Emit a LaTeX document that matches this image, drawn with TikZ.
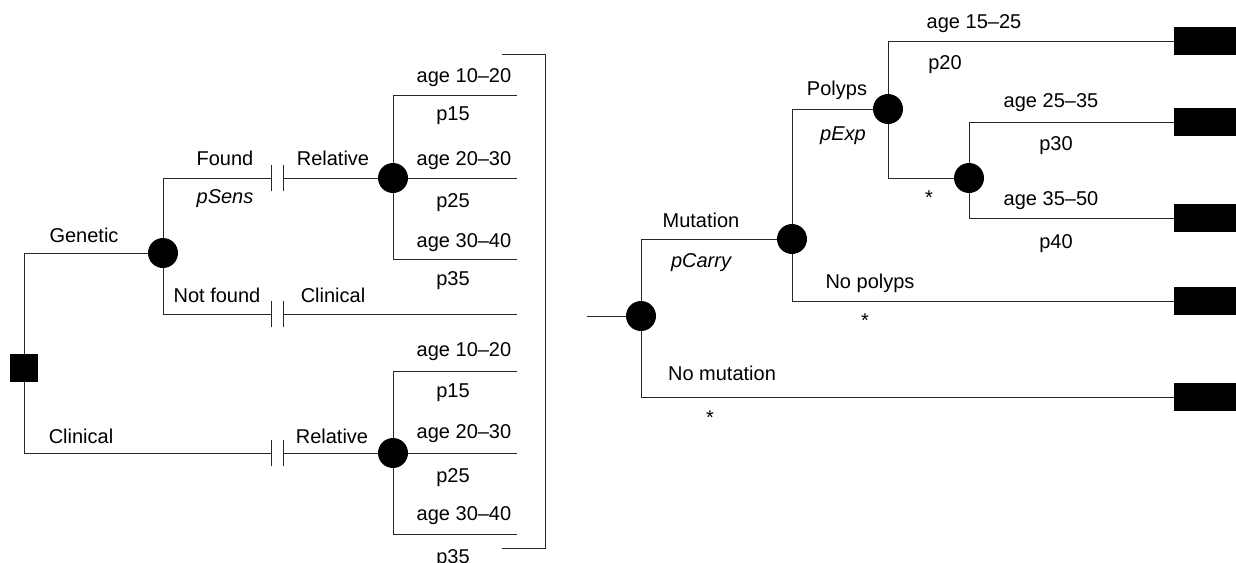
\documentclass[tikz,border=0pt]{standalone}
\usepackage{fontspec}
\setmainfont{Liberation Sans}
\begin{document}
\begin{tikzpicture}[x=1pt,y=-1pt,
 ln/.style={line width=0.9pt, draw=black!85},
 chance/.style={circle, fill=black, minimum size=30pt, inner sep=0pt},
 decision/.style={rectangle, fill=black, minimum size=28pt, inner sep=0pt},
 term/.style={rectangle, fill=black, minimum width=64pt, minimum height=28pt, inner sep=0pt, anchor=west},
 lbl/.style={font=\fontsize{20}{24}\selectfont, inner sep=0pt, text height=14pt, text depth=4pt},
 itl/.style={lbl, font=\fontsize{20}{24}\selectfont\itshape}]
\useasboundingbox (0,0) rectangle (1236,562);
% ---------- left tree coordinates ----------
\coordinate (D) at (24,368);
\coordinate (G) at (163,253);
\coordinate (Rt) at (393,178);
\coordinate (Rb) at (393,453);
\coordinate (fb1) at (271,178);
\coordinate (fb2) at (283,178);
\coordinate (nb1) at (271,314);
\coordinate (nb2) at (283,314);
\coordinate (cb1) at (271,453);
\coordinate (cb2) at (283,453);
\coordinate (ta1) at (517,95);
\coordinate (ta2) at (517,178);
\coordinate (ta3) at (517,259);
\coordinate (ce) at (517,314);
\coordinate (ba1) at (517,371);
\coordinate (ba2) at (517,453);
\coordinate (ba3) at (517,534);
\coordinate (bt) at (502,54);
\coordinate (bc) at (545,548);
\coordinate (bb) at (502,548);
% ---------- left tree lines ----------
\draw[ln] (G) -| (D);
\draw[ln] (cb1) -| (D);
\draw[ln] (G) |- (fb1);
\draw[ln] (G) |- (nb1);
\draw[ln] (fb2) -- (Rt);
\draw[ln] (nb2) -- (ce);
\draw[ln] (cb2) -- (Rb);
\foreach \b in {fb1,fb2,nb1,nb2,cb1,cb2}{
  \draw[ln] ([yshift=-13pt]\b) -- ([yshift=13pt]\b);
}
\draw[ln] (Rt) |- (ta1);
\draw[ln] (Rt) -- (ta2);
\draw[ln] (Rt) |- (ta3);
\draw[ln] (Rb) |- (ba1);
\draw[ln] (Rb) -- (ba2);
\draw[ln] (Rb) |- (ba3);
\draw[ln] (bt) -| (bc) -- (bb);
% ---------- left tree nodes ----------
\node[decision] (Dn) at (D) {};
\node[chance] (Gn) at (G) {};
\node[chance] (Rtn) at (Rt) {};
\node[chance] (Rbn) at (Rb) {};
% ---------- left labels ----------
\node[lbl] (l1) at (84,237) {Genetic};
\node[lbl] (l2) at (81,438) {Clinical};
\node[lbl] (l3) at (225,160) {Found};
\node[itl] (l4) at (225,198) {pSens};
\node[lbl] (l5) at (217,297) {Not found};
\node[lbl] (l6) at (333,160) {Relative};
\node[lbl] (l7) at (333,297) {Clinical};
\node[lbl] (l8) at (332,438) {Relative};
\node[lbl] (a1) at (464,77) {age 10–20};
\node[lbl] (a2) at (453,115) {p15};
\node[lbl] (a3) at (464,160) {age 20–30};
\node[lbl] (a4) at (453,202) {p25};
\node[lbl] (a5) at (464,242) {age 30–40};
\node[lbl] (a6) at (453,280) {p35};
\node[lbl] (b1) at (464,351) {age 10–20};
\node[lbl] (b2) at (453,392) {p15};
\node[lbl] (b3) at (464,433) {age 20–30};
\node[lbl] (b4) at (453,477) {p25};
\node[lbl] (b5) at (464,515) {age 30–40};
\node[lbl] (b6) at (453,558) {p35};
% ---------- right tree coordinates ----------
\coordinate (S) at (587,316);
\coordinate (R0) at (641,316);
\coordinate (M) at (792,239);
\coordinate (P) at (888,109);
\coordinate (Q) at (969,178);
\coordinate (e1) at (1174,41);
\coordinate (e2) at (1174,122);
\coordinate (e3) at (1174,218);
\coordinate (e4) at (1174,301);
\coordinate (e5) at (1174,397);
% ---------- right tree lines ----------
\draw[ln] (S) -- (R0);
\draw[ln] (R0) |- (M);
\draw[ln] (R0) |- (e5);
\draw[ln] (M) |- (P);
\draw[ln] (M) |- (e4);
\draw[ln] (P) |- (e1);
\draw[ln] (P) |- (Q);
\draw[ln] (Q) |- (e2);
\draw[ln] (Q) |- (e3);
% ---------- right tree nodes ----------
\node[chance] (R0n) at (R0) {};
\node[chance] (Mn) at (M) {};
\node[chance] (Pn) at (P) {};
\node[chance] (Qn) at (Q) {};
\foreach \e in {e1,e2,e3,e4,e5}{
  \node[term] (\e n) at (\e) {};
}
% ---------- right labels ----------
\node[lbl] (m1) at (701,222) {Mutation};
\node[itl] (m2) at (701,262) {pCarry};
\node[lbl] (m3) at (722,375) {No mutation};
\node[lbl] (m4) at (710,419) {*};
\node[lbl] (p1) at (837,90) {Polyps};
\node[itl] (p2) at (843,135) {pExp};
\node[lbl] (p3) at (870,283) {No polyps};
\node[lbl] (p4) at (865,322) {*};
\node[lbl] (q1) at (974,23) {age 15–25};
\node[lbl] (q2) at (945,64) {p20};
\node[lbl] (q3) at (929,199) {*};
\node[lbl] (q4) at (1051,102) {age 25–35};
\node[lbl] (q5) at (1056,145) {p30};
\node[lbl] (q6) at (1051,200) {age 35–50};
\node[lbl] (q7) at (1056,243) {p40};
\end{tikzpicture}
\end{document}
